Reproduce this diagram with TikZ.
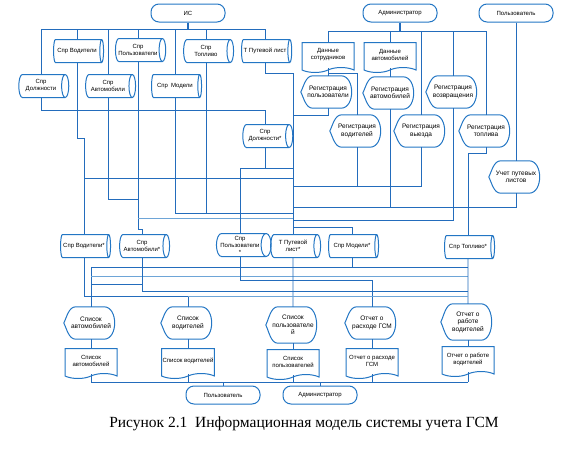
\documentclass[tikz,border=0pt]{standalone}
\usepackage{fontspec}
\setmainfont{Liberation Serif}
\newfontfamily\boxfont{Liberation Sans}
\usetikzlibrary{shapes.geometric,shapes.symbols,calc,positioning}
\definecolor{shapeblue}{RGB}{35,118,196}
\definecolor{lineblue}{RGB}{35,108,188}
\definecolor{paleblue}{RGB}{110,165,215}

\begin{document}
\begin{tikzpicture}[x=1pt,y=-1pt,
  every node/.style={font=\boxfont\fontsize{6}{7}\selectfont, align=center, inner sep=1pt},
  term/.style={draw=shapeblue, line width=1pt, rounded corners=8pt, minimum width=74pt, minimum height=18pt},
  db/.style={cylinder, draw=shapeblue, line width=1pt, aspect=0.5, minimum width=23pt, minimum height=50pt},
  doc/.style={tape, tape bend top=none, tape bend bottom=in and out, tape bend height=5pt, draw=shapeblue, line width=1pt, minimum width=52pt, minimum height=30pt},
  disp/.style={minimum width=54pt, minimum height=32pt, font=\boxfont\fontsize{6.5}{7.5}\selectfont,
    append after command={\pgfextra{\draw[draw=shapeblue, line width=1pt]
      ($(\tikzlastnode.north west)!0.22!(\tikzlastnode.north east)$) -- ($(\tikzlastnode.north west)!0.74!(\tikzlastnode.north east)$)
      .. controls (\tikzlastnode.north east) and (\tikzlastnode.south east) .. ($(\tikzlastnode.south west)!0.74!(\tikzlastnode.south east)$)
      -- ($(\tikzlastnode.south west)!0.22!(\tikzlastnode.south east)$)
      .. controls ($(\tikzlastnode.south west)+(5,0)$) and ($(\tikzlastnode.west)+(3,6)$) .. (\tikzlastnode.west)
      .. controls ($(\tikzlastnode.west)+(3,-6)$) and ($(\tikzlastnode.north west)+(5,0)$) .. cycle;}}},
  wire/.style={draw=lineblue, line width=0.8pt},
  pale/.style={draw=paleblue, line width=1pt}]
\useasboundingbox (0,0) rectangle (573,450);

\node[term] (is) at (188,13) {ИС};
\node[term] (adm) at (400,13) {Администратор};
\node[term] (usr) at (516,13) {Пользователь};

\node[db] (vod) at (77,51) {Спр Водители};
\node[db] (polz) at (138,50) {Спр\\Пользователи};
\node[db] (topl) at (206,51) {Спр\\Топливо};
\node[db] (put) at (265,51) {Т Путевой лист};
\node[db] (dolzh) at (41,86) {Спр\\Должности};
\node[db] (avto) at (108,86) {Спр\\Автомобили};
\node[db] (model) at (175,86) {Спр\enspace Модели};
\node[db] (dolzh2) at (265,136) {Спр\\Должности*};

\node[doc] (dsotr) at (328,55) {Данные\\сотрудников};
\node[doc] (davto) at (390,55) {Данные\\автомобилей};
\node[disp] (regpolz) at (328,92) {Регистрация\\пользователи};
\node[disp] (regavto) at (390,93) {Регистрация\\автомобилей};
\node[disp] (regvozv) at (453,92) {Регистрация\\возвращения};
\node[disp] (regvod) at (357,131) {Регистрация\\водителей};
\node[disp] (regvyezd) at (421,131) {Регистрация\\выезда};
\node[disp] (regtopl) at (486,131) {Регистрация\\топлива};
\node[disp] (uchet) at (516,177) {Учет путевых\\листов};

\node[db] (vod2) at (84,246) {Спр Водители*};
\node[db] (avto2) at (142,246) {Спр\\Автомобили*};
\node[db] (polz2) at (240,245) {Спр\\Пользователи\\*};
\node[db] (put2) at (293,246) {Т Путевой\\лист*};
\node[db] (model2) at (352,246) {Спр Модели*};
\node[db] (topl2) at (468,247) {Спр Топливо*};

\node[disp] (savto) at (91,323) {Список\\автомобилей};
\node[disp] (svod) at (188,323) {Список\\водителей};
\node[disp, minimum height=36pt] (spolz) at (293,325) {Список\\пользователе\\й};
\node[disp] (orash) at (372,323) {Отчет о\\расходе ГСМ};
\node[disp, minimum height=36pt] (orab) at (468,322) {Отчет о\\работе\\водителей};

\node[doc] (davto3) at (91,361) {Список\\автомобилей};
\node[doc] (dvod3) at (188,361) {Список водителей};
\node[doc] (dpolz3) at (293,362) {Список\\пользователей};
\node[doc] (drash3) at (372,361) {Отчет о расходе\\ГСМ};
\node[doc] (drab3) at (468,359) {Отчет о работе\\водителей};

\node[term] (usr2) at (223,395) {Пользователь};
\node[term] (adm2) at (320,395) {Администратор};

\node[font=\rmfamily\fontsize{15.5}{18}\selectfont] (cap) at (304,424) {Рисунок 2.1\enspace Информационная модель системы учета ГСМ};

\coordinate (lA) at (0,29);
\coordinate (lB) at (0,110);
\coordinate (lC) at (0,31);
\coordinate (lD) at (0,178);
\coordinate (lE) at (0,199);
\coordinate (lF) at (0,229);
\coordinate (lG) at (0,213);
\coordinate (lH) at (0,218);
\coordinate (lI) at (0,168);
\coordinate (lJ) at (0,73);
\coordinate (lK) at (0,115);
\coordinate (lL) at (0,186);
\coordinate (lM) at (0,207);
\coordinate (lN) at (0,220);
\coordinate (lO) at (0,227);
\coordinate (lP) at (0,267);
\coordinate (lQ) at (0,276);
\coordinate (lR) at (0,284);
\coordinate (lS) at (0,291);
\coordinate (lT) at (0,280);
\coordinate (lU) at (0,296);
\coordinate (lV) at (0,382);

\draw[wire, line width=1.6pt] (is.south) -- (is.south |- lA);
\draw[wire] (dolzh.north |- lA) -- (put.north |- lA);
\foreach \n in {dolzh,vod,avto,polz,model,topl,put} \draw[wire] (\n.north |- lA) -- (\n.north);
\foreach \n in {dolzh,vod,avto,polz,model,topl} \draw[wire] (\n.south) -- (\n.south |- lB);
\draw[wire] (dolzh.south |- lB) -- (dolzh2.north |- lB) -- (dolzh2.north);
\draw[wire] (put.south) |- (put2.north |- lJ) -- (put2.north);

\draw[wire] (vod.south |- lB) -- ++(0,28) -| (vod2.north);
\draw[wire] (vod2.north |- lD) -- (put2.north |- lD);
\draw[wire] (avto.south |- lB) -- (avto.south |- lE) -- (polz.south |- lE);
\draw[wire] (polz.south |- lB) -- (polz.south |- lF) -| (avto2.north);
\draw[wire] (model.south |- lB) -- (model.south |- lG) -- (put2.north |- lG);
\draw[wire] (topl.south |- lB) -- (topl.south |- lG);
\draw[pale] (polz.south |- lH) -- (put2.north |- lH);
\draw[wire] (dolzh2.south) -- (dolzh2.south |- lI);
\draw[wire] (polz2.north |- lI) -- (put2.north |- lI);
\draw[wire] (polz2.north |- lI) -- (polz2.north);

\draw[wire, line width=1.6pt] (adm.south) -- (adm.south |- lC);
\draw[wire] (dsotr.north |- lC) -- (regtopl.north |- lC);
\foreach \n in {dsotr,davto,regvyezd,regvozv,regtopl} \draw[wire] (\n.north |- lC) -- (\n.north);
\draw[wire] (usr.south) -- (uchet.north);
\draw[wire] (dsotr.south) -- (regpolz.north);
\draw[wire] (dsotr.south |- lJ) -| (regvod.north);
\draw[wire] (davto.south) -- (regavto.north);
\draw[wire] (regpolz.south) |- (put2.north |- lK);
\draw[wire] (regvod.south) -- (regvod.south |- lL);
\draw[wire] (put2.north |- lL) -- (regvyezd.south |- lL) -- (regvyezd.south);
\draw[wire] (regavto.south) -- (regavto.south |- lM);
\draw[wire] (put2.north |- lM) -- (uchet.south |- lM) -- (uchet.south);
\draw[wire] (regtopl.south) -- ++(0,6) -| (topl2.north);
\draw[wire] (regvozv.south) -- (regvozv.south |- lN) -- (put2.north |- lN);
\draw[wire] (put2.north |- lO) -| (model2.north);

\draw[wire] (savto.north |- lP) -- (savto.north);
\draw[wire] (savto.north |- lP) -- (topl2.south |- lP);
\draw[pale] (savto.north |- lQ) -- (topl2.south |- lQ);
\draw[wire] (topl2.south) -- (orab.north);
\draw[wire] (model2.south) -- (model2.south |- lP);
\draw[wire] (avto2.south) -- (avto2.south |- lS) -- (topl2.south |- lS);
\draw[wire] (savto.north |- lR) -- (avto2.south |- lR);
\draw[wire] (polz2.south) |- (orash.north |- lT) -- (orash.north);
\draw[wire] (put2.south) -- (spolz.north);
\draw[wire] (vod2.south) |- (svod.north |- lU) -- (svod.north);
\draw[pale] (svod.north |- lU) -- (topl2.south |- lU);

\foreach \a/\b in {savto/davto3,svod/dvod3,spolz/dpolz3,orash/drash3,orab/drab3} \draw[wire] (\a.south) -- (\b.north);
\draw[wire] (davto3.south |- lV) -- (drab3.south |- lV);
\foreach \n in {davto3,dvod3,dpolz3,drash3,drab3} \draw[wire] (\n.south) -- (\n.south |- lV);
\draw[wire] (usr2.north |- lV) -- (usr2.north);
\draw[wire] (adm2.north |- lV) -- (adm2.north);
\end{tikzpicture}
\end{document}
